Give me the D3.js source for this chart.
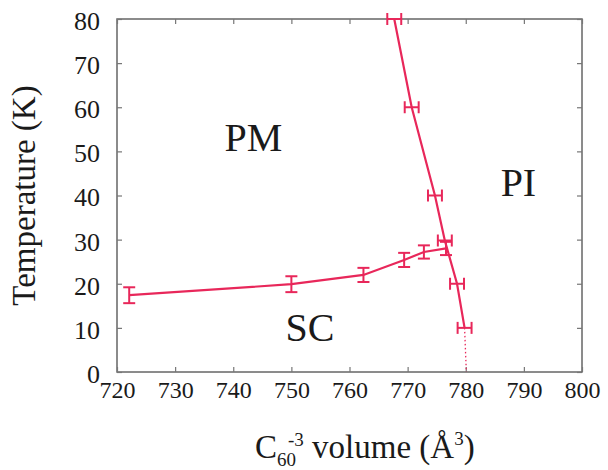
<!DOCTYPE html>
<html>
<head>
<meta charset="utf-8">
<script src="https://cdn.jsdelivr.net/npm/d3@7"></script>
<style>
  body { margin: 0; background: #fff; }
</style>
</head>
<body>
<div id="chart"></div>
<script>
// superconducting boundary (vertical error bars)
const scVolume = [722.1, 750.0, 762.4, 769.4, 772.8, 776.6];
const scTemp   = [17.4, 19.9, 22.0, 25.4, 27.2, 28.0];
const scErr    = [1.8, 1.8, 1.6, 1.6, 1.5, 1.5];

// metal-insulator boundary (horizontal error bars)
const piVolume = [767.7, 770.7, 774.7, 776.4, 778.5, 779.8];
const piTemp   = [80, 60, 40, 29.8, 20, 10];
const piErr    = [1.2, 1.2, 1.2, 1.2, 1.2, 1.2];

// dotted extrapolation to T = 0
const extVolume = [779.8, 780.1];
const extTemp   = [10, 0];

const xTicks = [720, 730, 740, 750, 760, 770, 780, 790, 800];
const yTicks = [0, 10, 20, 30, 40, 50, 60, 70, 80];

const regions = [
  { label: 'PM', v: 738.5, t: 50 },
  { label: 'SC', v: 749, t: 7 },
  { label: 'PI', v: 786, t: 40 }
];

const W = 608, H = 470;
const margin = { top: 19, right: 26, bottom: 98, left: 117 };
const color = '#e8275a';
const serif = '"Liberation Serif", "Times New Roman", Times, "DejaVu Serif", serif';
const ink = '#1a1a1a';

const svg = d3.select('#chart').append('svg')
  .attr('width', W).attr('height', H)
  .attr('font-family', serif);

const x = d3.scaleLinear().domain([720, 800]).range([margin.left, W - margin.right]);
const y = d3.scaleLinear().domain([0, 80]).range([H - margin.bottom, margin.top]);

const g = svg.append('g');

// frame
g.append('rect')
  .attr('x', x(720)).attr('y', y(80))
  .attr('width', x(800) - x(720)).attr('height', y(0) - y(80))
  .attr('fill', 'none').attr('stroke', '#666').attr('stroke-width', 1.5);

// inward ticks on all sides
const tickLen = 5;
const axisStyle = sel => sel.attr('font-family', serif)
  .call(a => a.select('.domain').remove())
  .call(a => a.selectAll('.tick line').attr('stroke', '#777').attr('stroke-width', 1.2));

g.append('g').attr('transform', `translate(0,${y(0)})`)
  .call(d3.axisBottom(x).tickValues(xTicks).tickSize(-tickLen).tickPadding(4).tickFormat(d3.format('d')))
  .call(axisStyle)
  .call(a => a.selectAll('text').attr('font-size', 24).attr('dy', '0.92em')
    .attr('font-family', serif).attr('fill', ink));

g.append('g').attr('transform', `translate(0,${y(80)})`)
  .call(d3.axisTop(x).tickValues(xTicks).tickSize(-tickLen).tickFormat(''))
  .call(axisStyle);

g.append('g').attr('transform', `translate(${x(720)},0)`)
  .call(d3.axisLeft(y).tickValues(yTicks).tickSize(-tickLen).tickPadding(17))
  .call(axisStyle)
  .call(a => a.selectAll('text').attr('font-size', 26).attr('dy', '0.4em')
    .attr('font-family', serif).attr('fill', ink));

g.append('g').attr('transform', `translate(${x(800)},0)`)
  .call(d3.axisRight(y).tickValues(yTicks).tickSize(-tickLen).tickFormat(''))
  .call(axisStyle);

// lines
const line = d3.line().x(d => x(d[0])).y(d => y(d[1]));
const scPts = scVolume.map((v, i) => [v, scTemp[i]]);
const piPts = piVolume.map((v, i) => [v, piTemp[i]]);
const extPts = extVolume.map((v, i) => [v, extTemp[i]]);

g.append('path').attr('d', line(scPts))
  .attr('fill', 'none').attr('stroke', color).attr('stroke-width', 2.2);
g.append('path').attr('d', line(piPts))
  .attr('fill', 'none').attr('stroke', color).attr('stroke-width', 2.2);
g.append('path').attr('d', line(extPts))
  .attr('fill', 'none').attr('stroke', color).attr('stroke-width', 1.3)
  .attr('stroke-dasharray', '1.5,2.5');

// vertical error bars
const cap = 6;
const sc = g.append('g').attr('stroke', color).attr('stroke-width', 2);
scPts.forEach((p, i) => {
  const cx = x(p[0]), lo = y(p[1] - scErr[i]), hi = y(p[1] + scErr[i]);
  sc.append('line').attr('x1', cx).attr('x2', cx).attr('y1', lo).attr('y2', hi);
  sc.append('line').attr('x1', cx - cap).attr('x2', cx + cap).attr('y1', lo).attr('y2', lo);
  sc.append('line').attr('x1', cx - cap).attr('x2', cx + cap).attr('y1', hi).attr('y2', hi);
});

// horizontal error bars
const pi = g.append('g').attr('stroke', color).attr('stroke-width', 2);
piPts.forEach((p, i) => {
  const cy = y(p[1]), lo = x(p[0] - piErr[i]), hi = x(p[0] + piErr[i]);
  pi.append('line').attr('x1', lo).attr('x2', hi).attr('y1', cy).attr('y2', cy);
  pi.append('line').attr('x1', lo).attr('x2', lo).attr('y1', cy - cap).attr('y2', cy + cap);
  pi.append('line').attr('x1', hi).attr('x2', hi).attr('y1', cy - cap).attr('y2', cy + cap);
});

// region labels
g.selectAll('text.region').data(regions).enter()
  .append('text').attr('class', 'region')
  .attr('x', d => x(d.v)).attr('y', d => y(d.t))
  .attr('font-size', 40).attr('fill', ink)
  .text(d => d.label);

// axis titles
svg.append('text')
  .attr('transform', `translate(35,${(y(0) + y(80)) / 2}) rotate(-90)`)
  .attr('text-anchor', 'middle')
  .attr('font-size', 33).attr('fill', ink)
  .text('Temperature (K)');

const xt = svg.append('text')
  .attr('x', 255).attr('y', 458)
  .attr('font-size', 33).attr('fill', ink);
xt.append('tspan').text('C');
xt.append('tspan').attr('font-size', 19).attr('dy', 8).text('60');
xt.append('tspan').attr('font-size', 19).attr('dx', -8).attr('dy', -20).text('-3');
xt.append('tspan').attr('dy', 12).text(' volume (Å');
xt.append('tspan').attr('font-size', 19).attr('dy', -13).text('3');
xt.append('tspan').attr('dy', 13).text(')');
</script>
</body>
</html>
